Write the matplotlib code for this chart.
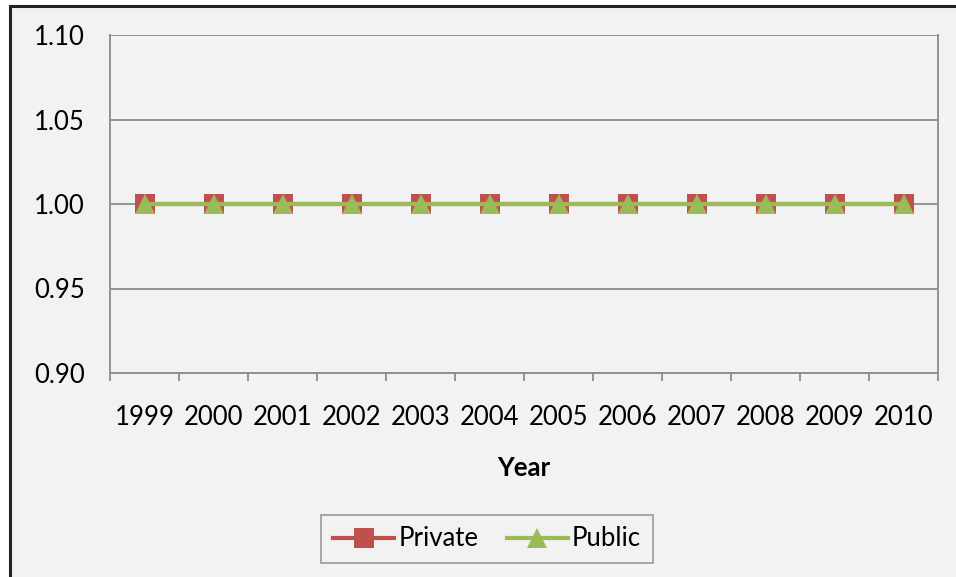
import matplotlib.pyplot as plt
import numpy as np
from matplotlib.patches import Rectangle
from matplotlib.lines import Line2D

plt.rcParams['font.family'] = ['Lato', 'DejaVu Sans']

# index values per year
years = ['1999', '2000', '2001', '2002', '2003', '2004',
         '2005', '2006', '2007', '2008', '2009', '2010']
private = [1.00, 1.00, 1.00, 1.00, 1.00, 1.00, 1.00, 1.00, 1.00, 1.00, 1.00, 1.00]
public = [1.00, 1.00, 1.00, 1.00, 1.00, 1.00, 1.00, 1.00, 1.00, 1.00, 1.00, 1.00]

red = '#C0504D'
green = '#9BBB59'
bg = '#F2F2F2'
fs = 18.5

fig = plt.figure(figsize=(9.56, 5.77), dpi=100, facecolor='white')
W, H = 956, 577

# chart area with dark frame (right and bottom edges run off the figure)
fig.patches.append(Rectangle((10 / W, -0.1), 1.2, 1.1 - 6 / H, transform=fig.transFigure,
                             facecolor=bg, edgecolor='#222222', linewidth=2.2, zorder=-1))

ax = fig.add_axes([110 / W, 1 - 373 / H, (938 - 110) / W, (373 - 35) / H])
ax.set_facecolor(bg)

x = np.arange(len(years))
ax.plot(x, private, color=red, linewidth=3, marker='s', markersize=14,
        markeredgewidth=0, zorder=3)
ax.plot(x, public, color=green, linewidth=3, marker='^', markersize=15,
        markeredgewidth=0, zorder=4)

ax.set_xlim(-0.5, len(years) - 0.5)
ax.set_ylim(0.90, 1.10)
ax.set_yticks([0.90, 0.95, 1.00, 1.05, 1.10])
ax.set_yticklabels(['0.90', '0.95', '1.00', '1.05', '1.10'], fontsize=fs)
ax.tick_params(axis='y', length=0, pad=18)
ax.grid(axis='y', color='#8C8C8C', linewidth=1.3, zorder=1)

# category labels between boundary ticks
ax.set_xticks(np.arange(len(years) + 1) - 0.5)
ax.set_xticklabels([])
ax.set_xticks(x, minor=True)
ax.set_xticklabels(years, minor=True, fontsize=fs)
ax.tick_params(axis='x', which='major', length=6, width=1.3, color='#8C8C8C', direction='out')
ax.tick_params(axis='x', which='minor', length=0, pad=23)

for side in ['left', 'bottom', 'right']:
    ax.spines[side].set_color('#8C8C8C')
    ax.spines[side].set_linewidth(1.3)
ax.spines['top'].set_visible(False)

ax.set_xlabel('Year', fontsize=fs, fontweight='bold', labelpad=19)

handles = [
    Line2D([], [], color=red, linewidth=3, marker='s', markersize=14, markeredgewidth=0),
    Line2D([], [], color=green, linewidth=3, marker='^', markersize=15, markeredgewidth=0),
]
leg = fig.legend(handles, ['Private', 'Public'], loc='center',
                 bbox_to_anchor=(487 / W, 1 - 539 / H), ncol=2, fontsize=fs,
                 frameon=True, fancybox=False, edgecolor='#8C8C8C', facecolor=bg,
                 handlelength=2.4, handletextpad=0.15, columnspacing=1.1,
                 borderpad=0.45)
leg.get_frame().set_linewidth(1.3)

fig.savefig('out.png', dpi=100, facecolor='white')
